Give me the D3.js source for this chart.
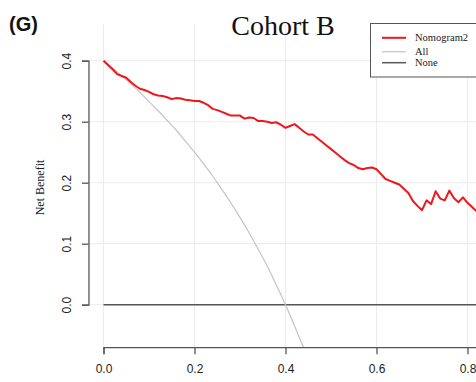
<!DOCTYPE html>
<html><head><meta charset="utf-8">
<script src="https://cdnjs.cloudflare.com/ajax/libs/d3/7.8.5/d3.min.js"></script>
<style>
html,body{margin:0;padding:0;background:#fff;overflow:hidden;}
svg{display:block;}
</style></head>
<body>
<svg id="chart" width="476" height="382"></svg>
<script>
// ---- data ----
const thresholds = [0.00,0.01,0.02,0.03,0.04,0.05,0.06,0.07,0.08,0.09,0.10,0.11,0.12,0.13,0.14,0.15,0.16,0.17,0.18,0.19,0.20,0.21,0.22,0.23,0.24,0.25,0.26,0.27,0.28,0.29,0.30,0.31,0.32,0.33,0.34,0.35,0.36,0.37,0.38,0.39,0.40,0.41,0.42,0.43,0.44,0.45,0.46,0.47,0.48,0.49,0.50,0.51,0.52,0.53,0.54,0.55,0.56,0.57,0.58,0.59,0.60,0.61,0.62,0.63,0.64,0.65,0.66,0.67,0.68,0.69,0.70,0.71,0.72,0.73,0.74,0.75,0.76,0.77,0.78,0.79,0.80,0.81,0.82];
const nomogram2 = [0.400,0.393,0.386,0.378,0.375,0.372,0.365,0.359,0.354,0.352,0.349,0.345,0.343,0.342,0.340,0.337,0.339,0.338,0.336,0.335,0.334,0.334,0.331,0.327,0.321,0.319,0.316,0.313,0.310,0.310,0.310,0.305,0.307,0.306,0.301,0.301,0.300,0.298,0.299,0.295,0.290,0.293,0.296,0.290,0.284,0.279,0.279,0.273,0.267,0.261,0.255,0.249,0.243,0.237,0.232,0.229,0.224,0.222,0.224,0.225,0.222,0.214,0.206,0.203,0.200,0.197,0.190,0.183,0.170,0.162,0.155,0.171,0.165,0.186,0.174,0.171,0.187,0.175,0.168,0.176,0.167,0.160,0.153];
const allThresholds = [0.00,0.02,0.04,0.06,0.08,0.10,0.12,0.14,0.16,0.18,0.20,0.22,0.24,0.26,0.28,0.30,0.32,0.34,0.36,0.38,0.40,0.42,0.44];
const allValues = [0.400,0.388,0.375,0.362,0.348,0.333,0.318,0.302,0.286,0.268,0.250,0.231,0.211,0.189,0.167,0.143,0.118,0.091,0.063,0.032,0.000,-0.035,-0.071];
const noneThresholds = [0.0, 1.0];
const noneValues = [0, 0];
const xTicks = [0.0,0.2,0.4,0.6,0.8,1.0];
const yTicks = [0.0,0.1,0.2,0.3,0.4];
const legendLabels = ["Nomogram2","All","None"];
const colors = {nomo:"#f0161b", all:"#c4c4c4", none:"#555555"};

// ---- layout ----
const svg = d3.select("#chart");
const x = d3.scaleLinear().domain([0,1]).range([103.5,558.5]);
const y = d3.scaleLinear().domain([0,0.4]).range([304.7,60.7]);
const plotLeft = x(-0.033), plotTop = y(0.4596), plotBottom = y(-0.0696), plotRight = x(1.04);

svg.append("rect").attr("width",476).attr("height",382).attr("fill","#fff");

svg.append("defs").append("clipPath").attr("id","clip")
  .append("rect").attr("x",plotLeft).attr("y",plotTop)
  .attr("width",plotRight-plotLeft).attr("height",plotBottom-plotTop);

// grid
const grid = svg.append("g").attr("stroke","#ececec").attr("stroke-width",1);
grid.selectAll("line.v").data(xTicks).join("line")
  .attr("x1",d=>x(d)).attr("x2",d=>x(d)).attr("y1",plotTop).attr("y2",plotBottom);
grid.selectAll("line.h").data(yTicks).join("line")
  .attr("y1",d=>y(d)).attr("y2",d=>y(d)).attr("x1",plotLeft).attr("x2",plotRight);

const plot = svg.append("g").attr("clip-path","url(#clip)");
const line = d3.line().x(d=>x(d[0])).y(d=>y(d[1]));

plot.append("path").datum(noneThresholds.map((t,i)=>[t,noneValues[i]]))
  .attr("d",line).attr("fill","none").attr("stroke",colors.none).attr("stroke-width",1.5);
plot.append("path").datum(allThresholds.map((t,i)=>[t,allValues[i]]))
  .attr("d",line.curve(d3.curveMonotoneX)).attr("fill","none").attr("stroke",colors.all).attr("stroke-width",1.2);
plot.append("path").datum(thresholds.map((t,i)=>[t,nomogram2[i]]))
  .attr("d",d3.line().x(d=>x(d[0])).y(d=>y(d[1]))).attr("fill","none")
  .attr("stroke",colors.nomo).attr("stroke-width",2).attr("stroke-linejoin","round");

// axes
const xAxis = svg.append("g").attr("transform",`translate(0,${plotBottom})`)
  .call(d3.axisBottom(x).tickValues(xTicks).tickSize(7).tickSizeOuter(7).tickFormat(d3.format(".1f")));
xAxis.selectAll("path,line").attr("stroke","#555").attr("stroke-width",1.3);
xAxis.selectAll("text").attr("font-family","Liberation Sans, Arial, sans-serif")
  .attr("font-size",12).attr("fill","#222").attr("y",17).attr("dy","0.71em");

const yAxis = svg.append("g").attr("transform",`translate(${plotLeft},0)`)
  .call(d3.axisLeft(y).tickValues(yTicks).tickSize(6.5).tickSizeOuter(6.5).tickFormat(d3.format(".1f")));
yAxis.selectAll("path,line").attr("stroke","#555").attr("stroke-width",1.3);
yAxis.selectAll("text").attr("font-family","Liberation Sans, Arial, sans-serif")
  .attr("font-size",12).attr("fill","#222")
  .attr("x",0).attr("dy",null).attr("text-anchor","middle").attr("dominant-baseline","central")
  .attr("transform","translate(-21,0) rotate(-90)");

// axis title
svg.append("text").attr("transform","translate(39.5,187.5) rotate(-90)")
  .attr("text-anchor","middle").attr("dominant-baseline","central")
  .attr("font-family","Liberation Serif, Times New Roman, serif").attr("font-size",12).attr("fill","#222")
  .text("Net Benefit");

// title
svg.append("text").attr("x",283).attr("y",35).attr("text-anchor","middle")
  .attr("font-family","Liberation Serif, Times New Roman, serif").attr("font-size",28).attr("fill","#111")
  .text("Cohort B");

svg.append("text").attr("x",9).attr("y",31).attr("font-family","Liberation Sans, Arial, sans-serif")
  .attr("font-weight","bold").attr("font-size",20).attr("fill","#111").text("(G)");

// legend
const lg = svg.append("g");
lg.append("rect").attr("x",370.5).attr("y",23.5).attr("width",140).attr("height",53.5)
  .attr("fill","#fff").attr("stroke","#555").attr("stroke-width",1);
const legRows = [37.8, 51.7, 62.7];
const legColors = [colors.nomo, colors.all, colors.none];
const legWidths = [2, 1.2, 1.5];
legendLabels.forEach((lab,i)=>{
  lg.append("line").attr("x1",382).attr("x2",406).attr("y1",legRows[i]).attr("y2",legRows[i])
    .attr("stroke",legColors[i]).attr("stroke-width",legWidths[i]);
  lg.append("text").attr("x",415).attr("y",legRows[i]).attr("dominant-baseline","central")
    .attr("font-family","Liberation Serif, Times New Roman, serif").attr("font-size",10.5).attr("fill","#222")
    .text(lab);
});
</script>
</body></html>
